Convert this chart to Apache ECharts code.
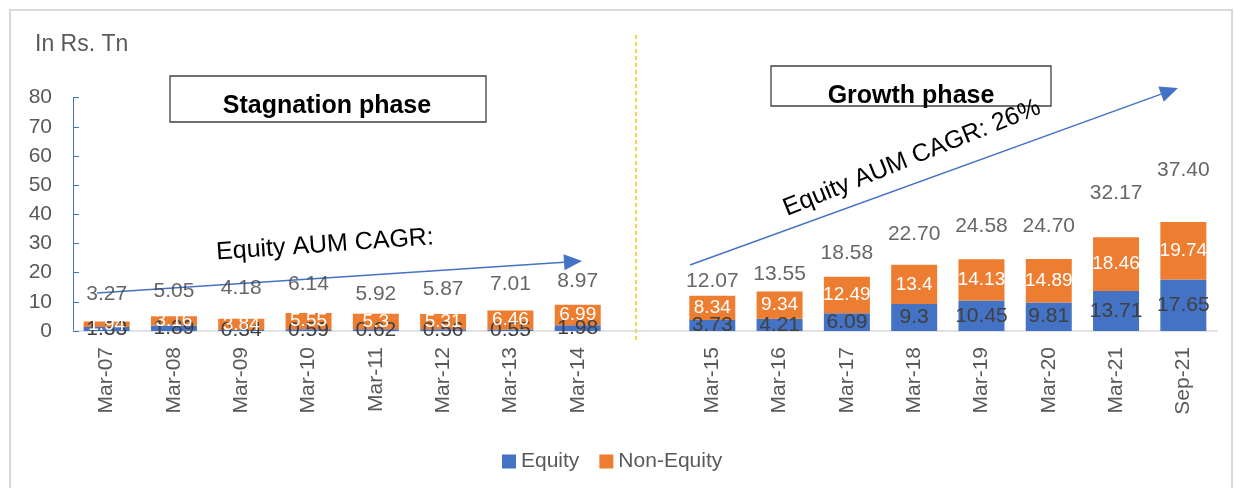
<!DOCTYPE html>
<html>
<head>
<meta charset="utf-8">
<script src="https://cdn.jsdelivr.net/npm/echarts@6/dist/echarts.min.js"></script>
<style>
  html, body { margin: 0; padding: 0; background: #fff; }
  #chart { width: 1234px; height: 488px; }
</style>
</head>
<body>
<div id="chart"></div>
<script>
// categories (blank slot separates the two phases)
const categories = ['Mar-07', 'Mar-08', 'Mar-09', 'Mar-10', 'Mar-11', 'Mar-12', 'Mar-13', 'Mar-14', '',
  'Mar-15', 'Mar-16', 'Mar-17', 'Mar-18', 'Mar-19', 'Mar-20', 'Mar-21', 'Sep-21'];
const equity = [1.33, 1.89, 0.34, 0.59, 0.62, 0.56, 0.55, 1.98, null,
  3.73, 4.21, 6.09, 9.3, 10.45, 9.81, 13.71, 17.65];
const nonEquity = [1.94, 3.16, 3.84, 5.55, 5.3, 5.31, 6.46, 6.99, null,
  8.34, 9.34, 12.49, 13.4, 14.13, 14.89, 18.46, 19.74];
const totals = ['3.27', '5.05', '4.18', '6.14', '5.92', '5.87', '7.01', '8.97', '',
  '12.07', '13.55', '18.58', '22.70', '24.58', '24.70', '32.17', '37.40'];
// level (in axis units) where each total label sits in the original
const totalLabelLevel = [12.7, 13.7, 14.8, 16.2, 12.7, 14.4, 16.2, 17.2, null,
  17.2, 19.6, 26.8, 33.3, 36.1, 36.1, 47.1, 55.3];
const yTicks = { min: 0, max: 80, step: 10 };

const font = 'Liberation Sans';
const grey = '#595959';
const dark = '#404040';
const blue = '#4472C4';
const orange = '#ED7D31';

function arrow(x1, y1, x2, y2) {
  const a = Math.atan2(y2 - y1, x2 - x1);
  const len = 18, half = 8;
  const bx = x2 - len * Math.cos(a), by = y2 - len * Math.sin(a);
  return [
    { type: 'line', shape: { x1: x1, y1: y1, x2: bx, y2: by }, style: { stroke: blue, lineWidth: 1.5 } },
    { type: 'polygon', shape: { points: [[x2, y2],
      [bx + half * Math.sin(a), by - half * Math.cos(a)],
      [bx - half * Math.sin(a), by + half * Math.cos(a)]] }, style: { fill: blue } }
  ];
}

const chart = echarts.init(document.getElementById('chart'));

const option = {
  animation: false,
  backgroundColor: '#fff',
  textStyle: { fontFamily: font },
  grid: { left: 73, right: 17, top: 97.7, bottom: 157 },
  legend: {
    data: ['Equity', 'Non-Equity'],
    left: 497, top: 446,
    icon: 'rect', itemWidth: 14, itemHeight: 14, itemGap: 20,
    textStyle: { fontSize: 21, color: grey, fontFamily: font }
  },
  xAxis: {
    type: 'category',
    data: categories,
    axisLine: { lineStyle: { color: '#d9d9d9', width: 1.5 } },
    axisTick: { show: false },
    axisLabel: { rotate: 90, fontSize: 21, color: grey, margin: 16, interval: 0, fontFamily: font }
  },
  yAxis: {
    type: 'value',
    min: yTicks.min, max: yTicks.max, interval: yTicks.step,
    axisLine: { show: true, lineStyle: { color: blue, width: 1 } },
    axisTick: { show: true, inside: true, length: 6, lineStyle: { color: blue } },
    splitLine: { show: false },
    axisLabel: { fontSize: 21, color: grey, margin: 21, fontFamily: font }
  },
  series: [
    {
      name: 'Equity', type: 'bar', stack: 'aum', barWidth: 46,
      data: equity,
      itemStyle: { color: blue },
      label: { show: true, position: 'inside', color: dark, fontSize: 21, fontFamily: font }
    },
    {
      name: 'Non-Equity', type: 'bar', stack: 'aum', barWidth: 46,
      data: nonEquity,
      itemStyle: { color: orange },
      label: { show: true, position: 'inside', color: '#fff', fontSize: 19, fontFamily: font }
    },
    {
      name: 'Total', type: 'scatter', symbolSize: 0,
      data: totalLabelLevel.map((v, i) => v == null ? null : [i, v]),
      label: {
        show: true, position: 'inside', color: dark, fontSize: 21, fontFamily: font,
        formatter: p => totals[p.dataIndex]
      },
      silent: true
    }
  ],
  graphic: [
    { type: 'rect', shape: { x: 10, y: 10, width: 1222, height: 490 },
      style: { fill: 'none', stroke: '#d9d9d9', lineWidth: 2 }, silent: true },
    { type: 'text', left: 35, top: 33,
      style: { text: 'In Rs. Tn', fontSize: 23, fill: grey, fontFamily: font } },
    { type: 'line', shape: { x1: 636, y1: 35, x2: 636, y2: 340 },
      style: { stroke: '#FFC000', lineWidth: 1.5, lineDash: [4, 3] } },
    { type: 'rect', shape: { x: 170, y: 76, width: 316, height: 46 },
      style: { fill: '#fff', stroke: dark, lineWidth: 1.3 } },
    { type: 'text', x: 327, y: 106,
      style: { text: 'Stagnation phase', fontSize: 25, fontWeight: 'bold', fill: '#000', fontFamily: font,
        align: 'center', verticalAlign: 'middle' } },
    { type: 'rect', shape: { x: 771, y: 66, width: 280, height: 40 },
      style: { fill: '#fff', stroke: dark, lineWidth: 1.3 } },
    { type: 'text', x: 911, y: 96,
      style: { text: 'Growth phase', fontSize: 25, fontWeight: 'bold', fill: '#000', fontFamily: font,
        align: 'center', verticalAlign: 'middle' } },
    ...arrow(97, 293, 582, 261),
    ...arrow(690, 265, 1178, 88),
    { type: 'text', x: 325, y: 245, rotation: 4 * Math.PI / 180,
      style: { text: 'Equity AUM CAGR:', fontSize: 25, fill: '#000', fontFamily: font,
        align: 'center', verticalAlign: 'middle' } },
    { type: 'text', x: 912, y: 158, rotation: 22 * Math.PI / 180,
      style: { text: 'Equity AUM CAGR: 26%', fontSize: 25, fill: '#000', fontFamily: font,
        align: 'center', verticalAlign: 'middle' } }
  ]
};

chart.setOption(option);
window.addEventListener('resize', () => chart.resize());
</script>
</body>
</html>
